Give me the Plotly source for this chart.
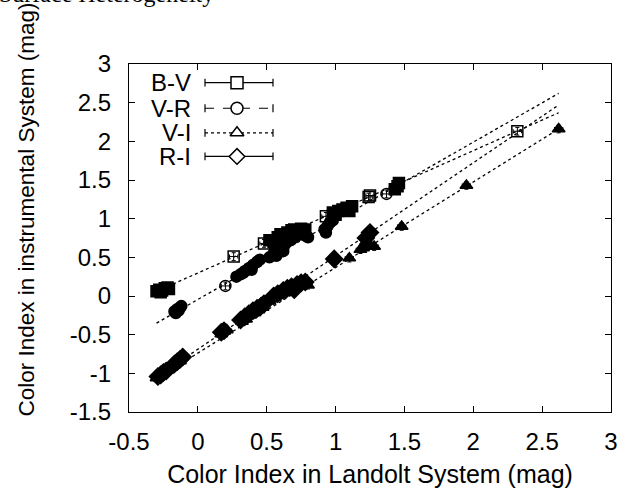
import plotly.graph_objects as go

# ---------------- data ----------------
bv_x = [-0.30, -0.28, -0.26, -0.24, -0.22, -0.27, -0.21, 0.26,
        0.48, 0.52, 0.55, 0.58, 0.60, 0.62, 0.65, 0.68, 0.70, 0.72, 0.75, 0.78, 0.64, 0.57,
        0.93, 0.98, 1.02, 1.05, 1.08, 1.12, 1.00, 1.10, 1.24, 1.25, 1.43, 1.45, 1.46, 2.32]
bv_y = [0.06, 0.08, 0.07, 0.10, 0.11, 0.05, 0.09, 0.51,
        0.68, 0.72, 0.70, 0.76, 0.80, 0.78, 0.82, 0.85, 0.86, 0.84, 0.87, 0.86, 0.74, 0.66,
        1.03, 1.08, 1.10, 1.12, 1.14, 1.16, 1.05, 1.10, 1.28, 1.30, 1.38, 1.42, 1.46, 2.13]

vr_x = [-0.17, -0.15, -0.13, -0.12, -0.16, -0.14, 0.20,
        0.28, 0.31, 0.34, 0.37, 0.40, 0.43, 0.45, 0.33, 0.39,
        0.52, 0.55, 0.58, 0.60, 0.63, 0.65, 0.68, 0.70, 0.72, 0.75, 0.78, 0.80, 0.62, 0.57,
        0.92, 0.94, 0.96, 0.98, 0.93, 1.37]
vr_y = [-0.20, -0.17, -0.15, -0.13, -0.22, -0.19, 0.13,
        0.25, 0.28, 0.32, 0.36, 0.40, 0.44, 0.47, 0.30, 0.34,
        0.50, 0.55, 0.60, 0.62, 0.66, 0.70, 0.73, 0.76, 0.78, 0.80, 0.78, 0.76, 0.58, 0.52,
        0.86, 0.90, 0.95, 0.98, 0.82, 1.32]

vi_x = [-0.30, -0.28, -0.26, -0.24, -0.22, -0.27, -0.16, -0.14, -0.12, -0.13,
        0.17, 0.19, 0.21, 0.32, 0.35, 0.38, 0.41, 0.44, 0.47,
        0.52, 0.56, 0.60, 0.63, 0.66, 0.70, 0.73, 0.76, 0.80,
        1.10, 1.18, 1.20, 1.23, 1.25, 1.22, 1.28, 1.48, 1.95, 2.62]
vi_y = [-1.06, -1.04, -1.01, -0.98, -0.96, -1.02, -0.86, -0.83, -0.80, -0.84,
        -0.49, -0.46, -0.44, -0.33, -0.30, -0.25, -0.22, -0.18, -0.15,
        -0.06, -0.02, 0.02, 0.05, 0.08, 0.10, 0.13, 0.15, 0.14,
        0.49, 0.60, 0.62, 0.65, 0.66, 0.70, 0.64, 0.90, 1.43, 2.16]

ri_x = [-0.29, -0.27, -0.25, -0.23, -0.17, -0.15, -0.13, -0.11, 0.17, 0.19,
        0.31, 0.34, 0.37, 0.40, 0.43, 0.46, 0.48,
        0.55, 0.58, 0.62, 0.65, 0.68, 0.72, 0.75, 0.78, 0.70, 0.99, 1.22, 1.25]
ri_y = [-1.04, -1.02, -0.99, -0.97, -0.88, -0.85, -0.82, -0.79, -0.47, -0.45,
        -0.31, -0.27, -0.23, -0.19, -0.16, -0.13, -0.10,
        0.00, 0.03, 0.07, 0.10, 0.12, 0.15, 0.17, 0.18, 0.08, 0.48, 0.75, 0.82]

# fitted lines (end points)
fit_x = [-0.30, 2.62]
bv_fit_y = [0.06, 2.37]
vr_fit_y = [-0.35, 2.62]
vi_fit_y = [-1.07, 2.16]
ri_fit_y = [-1.05, 2.47]

series_names = ["B-V", "V-R", "V-I", "R-I"]
x_ticks = [-0.5, 0, 0.5, 1, 1.5, 2, 2.5, 3]
y_ticks = [-1.5, -1, -0.5, 0, 0.5, 1, 1.5, 2, 2.5, 3]

# ---------------- figure ----------------
FONT = "Liberation Sans, Arial, sans-serif"
L, R, T, B = 129, 21, 64, 77
W, H = 632, 495
PW, PH = W - L - R, H - T - B


def px_to_paper(px, py):
    return (px - L) / PW, (H - B - py) / PH


def dense_flags(xs, ys, rad=0.07, need=2):
    out = []
    for i, (a, b) in enumerate(zip(xs, ys)):
        n = sum(1 for j, (c, d) in enumerate(zip(xs, ys))
                if j != i and ((a - c) ** 2 + ((b - d) * 0.6) ** 2) ** 0.5 < rad)
        out.append(n >= need)
    return out


fig = go.Figure()

series = [
    (bv_x, bv_y, bv_fit_y, "square", True),
    (vr_x, vr_y, vr_fit_y, "circle", True),
    (vi_x, vi_y, vi_fit_y, "triangle-up", False),
    (ri_x, ri_y, ri_fit_y, "diamond", False),
]

for (sx, sy, fy, sym, op), name in zip(series, series_names):
    fig.add_trace(go.Scatter(x=fit_x, y=fy, mode="lines", showlegend=False,
                             line=dict(color="black", width=1.3, dash="dot"),
                             hoverinfo="skip"))
for (sx, sy, fy, sym, op), name in zip(series, series_names):
    if op:
        flags = dense_flags(sx, sy)
        syms = [sym if f else sym + "-open" for f in flags]
    else:
        syms = sym
    fig.add_trace(go.Scatter(
        x=sx, y=sy, mode="markers", name=name, showlegend=False,
        marker=dict(symbol=syms, size=11 if sym != "diamond" else 13, color="black",
                    line=dict(color="black", width=1.5)),
        error_x=dict(type="constant", value=0.03, color="black", thickness=1, width=2),
        error_y=dict(type="constant", value=0.05, color="black", thickness=1, width=2),
    ))

# ---------------- custom legend (overlay axes in pixel units) ----------------
leg_rows = [83, 109, 134, 158]
leg_dash = ["solid", "dash", "dot", "solid"]
leg_sym = ["square", "circle", "triangle-up", "diamond"]
x0, x1, xm = 205, 273, 237
for ry, nm, dsh, sym in zip(leg_rows, series_names, leg_dash, leg_sym):
    fig.add_trace(go.Scatter(x=[x0, x1], y=[ry, ry], mode="lines", xaxis="x2", yaxis="y2",
                             showlegend=False, hoverinfo="skip",
                             line=dict(color="black", width=1.2, dash=dsh)))
    fig.add_trace(go.Scatter(x=[x0, x0, None, x1, x1], y=[ry - 4, ry + 4, None, ry - 4, ry + 4],
                             mode="lines", xaxis="x2", yaxis="y2",
                             showlegend=False, hoverinfo="skip",
                             line=dict(color="black", width=1.2)))
    fig.add_trace(go.Scatter(x=[xm], y=[ry], mode="markers", xaxis="x2", yaxis="y2",
                             showlegend=False, hoverinfo="skip",
                             marker=dict(symbol=sym, size=12, color="white",
                                         line=dict(color="black", width=1.5))))
    fig.add_annotation(x=192, y=ry, xref="x2", yref="y2", text=nm, showarrow=False,
                       xanchor="right", yanchor="middle", borderpad=0,
                       font=dict(family=FONT, size=24, color="black"))

# cut-off header text at top
hx, hy = px_to_paper(-3, 8)
fig.add_annotation(x=hx, y=hy, xref="paper", yref="paper", text="Surface Heterogeneity",
                   showarrow=False, xanchor="left", yanchor="bottom",
                   font=dict(family="Liberation Serif, Times New Roman, serif", size=24,
                             color="black"))

# y-axis title (placed as rotated text, as in the reference it sits above centre)
tx, ty = px_to_paper(26, 212)
fig.add_annotation(x=tx, y=ty, xref="paper", yref="paper",
                   text="Color Index in instrumental System (mag)", textangle=-90,
                   showarrow=False, xanchor="center", yanchor="middle",
                   font=dict(family=FONT, size=22.5, color="black"))

axis_common = dict(showgrid=False, zeroline=False, showline=True, linecolor="black",
                   linewidth=1.2, mirror="allticks", ticks="inside", ticklen=6,
                   tickcolor="black", tickwidth=1,
                   tickfont=dict(family=FONT, size=24, color="black"))

fig.update_layout(
    width=W, height=H, autosize=False,
    margin=dict(l=L, r=R, t=T, b=B, pad=0),
    paper_bgcolor="white", plot_bgcolor="white",
    showlegend=False,
    xaxis=dict(range=[-0.5, 3], tickvals=x_ticks, ticktext=[f"{v:g}" for v in x_ticks],
               ticklabelstandoff=8,
               title=dict(text="Color Index in Landolt System (mag)",
                          font=dict(family=FONT, size=25, color="black"), standoff=11),
               **axis_common),
    yaxis=dict(range=[-1.5, 3], tickvals=y_ticks, ticktext=[f"{v:g}" for v in y_ticks],
               ticklabelstandoff=12, **axis_common),
    xaxis2=dict(range=[L, W - R], overlaying="x", visible=False, fixedrange=True),
    yaxis2=dict(range=[H - B, T], overlaying="y", visible=False, fixedrange=True),
)

fig.write_html("out.html")
